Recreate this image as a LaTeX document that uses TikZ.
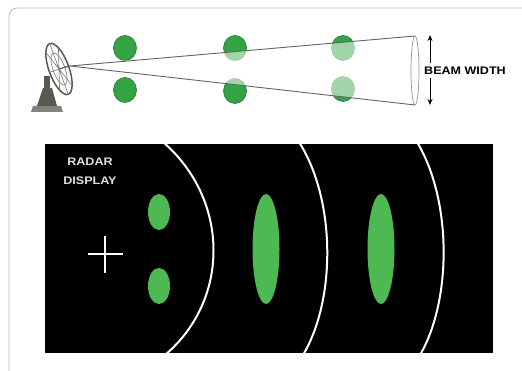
\documentclass[tikz,border=0pt]{standalone}
\usepackage{fontspec}
\setmainfont{Liberation Sans}
\usetikzlibrary{arrows.meta}
\definecolor{blipgreen}{RGB}{78,184,82}
\definecolor{targetgreen}{RGB}{52,163,68}
\definecolor{targetedge}{RGB}{40,120,50}
\definecolor{beamgray}{RGB}{100,100,100}
\definecolor{framegray}{RGB}{185,185,185}
\definecolor{dishgray}{RGB}{90,88,80}
\tikzset{
  target/.style={fill=targetgreen, draw=targetedge, line width=0.6pt},
  blip/.style={fill=blipgreen, draw=none},
  rangering/.style={draw=white, line width=2pt},
  label/.style={font=\bfseries\fontsize{11}{19}\selectfont, inner sep=0pt, xscale=1.14},
  widtharrow/.style={line width=1pt, -{Stealth[length=6pt,width=5pt]}},
}
\begin{document}
\begin{tikzpicture}[x=1pt,y=-1pt]
\useasboundingbox (0,0) rectangle (522,371);
\fill[white] (0,0) rectangle (522,371);
% outer frame
\draw[framegray, line width=0.8pt] (9,371) -- (9,16) arc[start angle=180, end angle=270, radius=8] -- (522,8);

% targets in the top view
\foreach \x/\y in {125/48, 125/90, 235/48, 235/91, 343/48, 343/89}
  \filldraw[target] (\x,\y) ellipse[x radius=11.5, y radius=12.5];

% beam cone
\coordinate (apex) at (70,66);
\coordinate (btop) at (415,36);
\coordinate (bbot) at (415,105);
\fill[white, opacity=0.55] (apex) -- (btop) -- (bbot) -- cycle;
\fill[white, opacity=0.55] (415,70.5) ellipse[x radius=4, y radius=34.5];
\draw[beamgray, line width=0.9pt] (btop) -- (apex) -- (bbot);
\draw[beamgray!70, line width=0.7pt] (415,70.5) ellipse[x radius=4, y radius=34.5];

% beam width arrows and label
\coordinate (aw1) at (430,35);
\coordinate (aw2) at (430,105);
\draw[widtharrow] (430,63) -- (aw1);
\draw[widtharrow] (430,78) -- (aw2);
\node[label, anchor=west] (bw) at (424,70.5) {BEAM WIDTH};

% radar antenna
\fill[dishgray!75] (31,112) -- (63,112) -- (61,106) -- (33,106) -- cycle;
\fill[dishgray] (37,106) -- (57,106) -- (52,88) -- (43,88) -- cycle;
\fill[dishgray] (44,90) rectangle (50,76);
\begin{scope}[rotate around={20:(59,69)}]
  \fill[white] (59,69) ellipse[x radius=10, y radius=27];
  \draw[dishgray, line width=1.5pt] (59,69) ellipse[x radius=10, y radius=27];
  \draw[dishgray!80, line width=0.6pt] (59,69) ellipse[x radius=6, y radius=17];
  \draw[dishgray!80, line width=0.6pt] (49,69) -- (69,69) (59,42) -- (59,96)
       (52,48) -- (66,90) (52,90) -- (66,48);
\end{scope}
\draw[dishgray, line width=1pt] (59,69) -- (apex);

% radar display
\fill[black] (45,144) rectangle (493,353);
\node[label, white!88!black, align=center] (rd) at (90,171.5) {RADAR\\DISPLAY};
\coordinate (plus) at (105,254);
\draw[white, line width=2.6pt] (88,254) -- (123,254) (105,236) -- (105,273);
% range rings
\draw[rangering] (163,142) .. controls (230,200) and (230,300) .. (165,355);
\draw[rangering] (299,142) .. controls (336,200) and (336,300) .. (303,355);
\draw[rangering] (417,142) .. controls (452,200) and (452,300) .. (420,355);
% echoes
\fill[blip] (159,212) ellipse[x radius=11, y radius=18];
\fill[blip] (159,286) ellipse[x radius=11, y radius=18];
\fill[blip] (266,249) ellipse[x radius=13.5, y radius=55];
\fill[blip] (381,249) ellipse[x radius=13.5, y radius=55];
\end{tikzpicture}
\end{document}
